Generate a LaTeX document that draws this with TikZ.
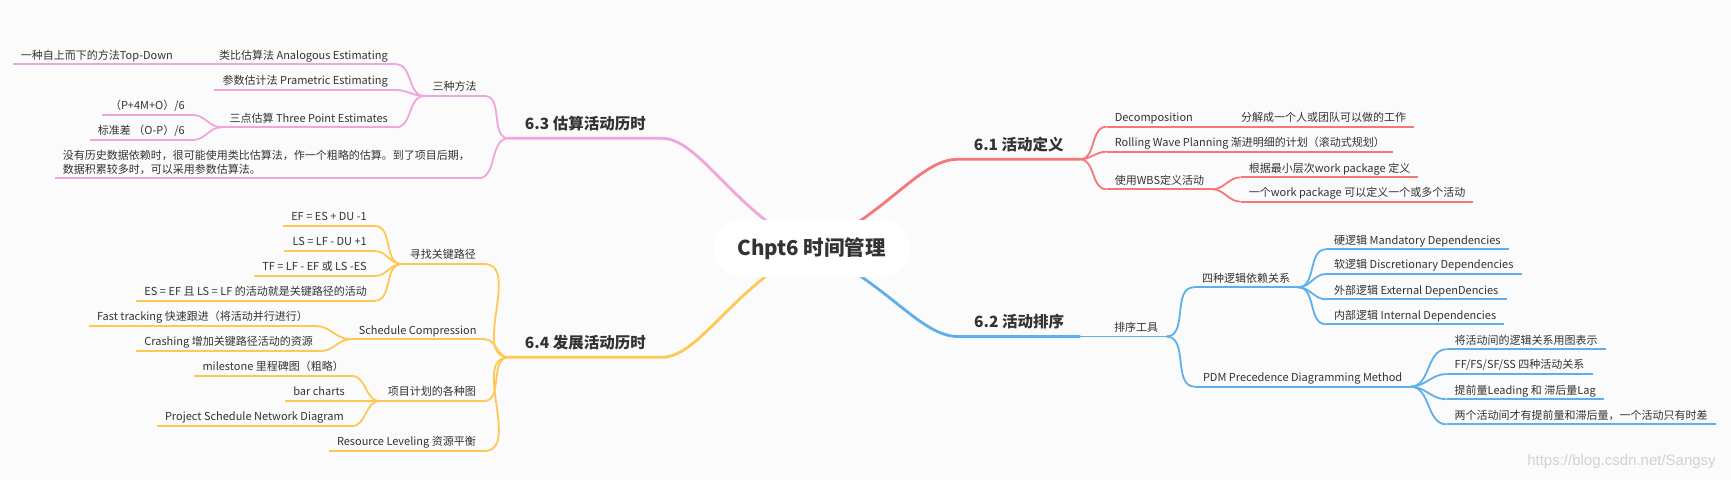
\documentclass[tikz,border=0pt]{standalone}
\usepackage{fontspec}
\setmainfont{Noto Sans CJK SC}
\newfontfamily\wmfont{Liberation Sans}

\definecolor{paper}{RGB}{251,251,251}
\definecolor{txt}{RGB}{51,51,51}
\definecolor{redbr}{RGB}{245,120,120}
\definecolor{pinkbr}{RGB}{240,165,220}
\definecolor{bluebr}{RGB}{95,175,235}
\definecolor{yelbr}{RGB}{255,200,85}

\pgfdeclarelayer{paper}
\pgfdeclarelayer{links}
\pgfsetlayers{paper,links,main}

\tikzset{
    root/.style={rectangle, rounded corners=28pt, fill=white, minimum width=197pt, minimum height=57pt, text=txt, font=\fontsize{20.5}{24}\selectfont\bfseries},
    branch/.style={inner xsep=16pt, inner ysep=5.7pt, text depth=3pt, text=txt, font=\fontsize{15.5}{18}\selectfont\bfseries},
    topic/.style={inner xsep=8pt, inner ysep=2.6pt, text depth=2.5pt, text=txt, font=\fontsize{11}{14}\selectfont},
    rtopic/.style={topic, anchor=south west},
    ltopic/.style={topic, anchor=south east},
    mainline/.style={line width=2.8pt},
    subline/.style={line width=1.8pt}
}

\begin{document}
\begin{tikzpicture}[x=1pt, y=-1pt]
    \begin{pgfonlayer}{paper}
        \fill[paper] (0,0) rectangle (1731,480);
    \end{pgfonlayer}
    \useasboundingbox (0,0) rectangle (1731,480);

    % Root and the four chapters
    \node[root] (root) at (811.5,248.5) {Chpt6 时间管理};
    \node[branch, anchor=south west] (defn) at (957.6,159.3) {6.1 活动定义};
    \node[branch, anchor=south west] (seq) at (958,336.5) {6.2 活动排序};
    \node[branch, anchor=south east] (est) at (662,138.3) {6.3 估算活动历时};
    \node[branch, anchor=south east] (dev) at (662,357.3) {6.4 发展活动历时};

    % 6.1 topics
    \node[rtopic] (dec) at (1106.6,126.7) {Decomposition};
    \node[rtopic] (decsub) at (1233,126.7) {分解成一个人或团队可以做的工作};
    \node[rtopic] (roll) at (1106.6,151.7) {Rolling Wave Planning 渐进明细的计划（滚动式规划）};
    \node[rtopic] (wbs) at (1106.6,189.3) {使用WBS定义活动};
    \node[rtopic] (wbsa) at (1240.6,177.3) {根据最小层次work package 定义};
    \node[rtopic] (wbsb) at (1240.6,201.7) {一个work package 可以定义一个或多个活动};

    % 6.2 topics
    \node[rtopic] (tool) at (1106,336.5) {排序工具};
    \node[rtopic] (dep) at (1193.8,287.3) {四种逻辑依赖关系};
    \node[rtopic] (depa) at (1326,249.3) {硬逻辑 Mandatory Dependencies};
    \node[rtopic] (depb) at (1326,274) {软逻辑 Discretionary Dependencies};
    \node[rtopic] (depc) at (1326,299.3) {外部逻辑 External DepenDencies};
    \node[rtopic] (depd) at (1326,324.3) {内部逻辑 Internal Dependencies};
    \node[rtopic] (pdm) at (1194.8,386.7) {PDM Precedence Diagramming Method};
    \node[rtopic] (pdma) at (1446.5,349.3) {将活动间的逻辑关系用图表示};
    \node[rtopic] (pdmb) at (1446.5,374) {FF/FS/SF/SS 四种活动关系};
    \node[rtopic] (pdmc) at (1446.5,399.3) {提前量Leading 和 滞后量Lag};
    \node[rtopic] (pdmd) at (1446.5,424.3) {两个活动间才有提前量和滞后量，一个活动只有时差};

    % 6.3 topics
    \node[ltopic] (three) at (484.7,96) {三种方法};
    \node[ltopic] (ana) at (396,64.3) {类比估算法 Analogous Estimating};
    \node[ltopic] (anasub) at (181,64.3) {一种自上而下的方法Top-Down};
    \node[ltopic] (para) at (396,90) {参数估计法 Prametric Estimating};
    \node[ltopic] (tpe) at (396,127.3) {三点估算 Three Point Estimates};
    \node[ltopic] (pert) at (193,115) {（P+4M+O）/6};
    \node[ltopic] (sd) at (193,140) {标准差 （O-P）/6};
    \node[ltopic, align=left] (note) at (478,178.3) {没有历史数据依赖时，很可能使用类比估算法，作一个粗略的估算。到了项目后期，\\数据积累较多时，可以采用参数估算法。};

    % 6.4 topics
    \node[ltopic] (crit) at (484,264) {寻找关键路径};
    \node[ltopic] (efx) at (375,226) {EF = ES + DU -1};
    \node[ltopic] (lsx) at (375,251) {LS = LF - DU +1};
    \node[ltopic] (tfx) at (375,276) {TF = LF - EF 或 LS -ES};
    \node[ltopic] (cpx) at (375,300.7) {ES = EF 且 LS = LF 的活动就是关键路径的活动};
    \node[ltopic] (comp) at (484.7,339.3) {Schedule Compression};
    \node[ltopic] (fast) at (316,326) {Fast tracking 快速跟进（将活动并行进行）};
    \node[ltopic] (crash) at (321,351) {Crashing 增加关键路径活动的资源};
    \node[ltopic] (chart) at (484,401) {项目计划的各种图};
    \node[ltopic] (ms) at (352,376) {milestone 里程碑图（粗略）};
    \node[ltopic] (bar) at (353,401) {bar charts};
    \node[ltopic] (psnd) at (352,426) {Project Schedule Network Diagram};
    \node[ltopic] (level) at (484,451) {Resource Leveling 资源平衡};

    \node[font=\wmfont\fontsize{15}{18}\selectfont, text=gray!35] (mark) at (1621.5,461.7) {https://blog.csdn.net/Sangsy};

    \begin{pgfonlayer}{links}
        % 6.1
        \draw[mainline, redbr] (root.center) .. controls +(76,-34) and +(-38,0) .. (defn.south west) -- (defn.south east);
        \foreach \c in {dec,roll,wbs}
            \draw[subline, redbr] (defn.south east) to[out=0,in=180] (\c.south west);
        \foreach \c in {wbsa,wbsb}
            \draw[subline, redbr] (wbs.south east) to[out=0,in=180] (\c.south west);
        \draw[subline, redbr] (dec.south east) -- (decsub.south west);
        \foreach \n in {dec,decsub,roll,wbs,wbsa,wbsb}
            \draw[subline, redbr] (\n.south west) -- (\n.south east);

        % 6.2
        \draw[mainline, bluebr] (root.center) .. controls +(76,34) and +(-38,0) .. (seq.south west) -- (seq.south east);
        \draw[subline, bluebr] (seq.south east) -- (tool.south west);
        \foreach \c in {dep,pdm}
            \draw[subline, bluebr] (tool.south east) to[out=0,in=180] (\c.south west);
        \foreach \c in {depa,depb,depc,depd}
            \draw[subline, bluebr] (dep.south east) to[out=0,in=180] (\c.south west);
        \foreach \c in {pdma,pdmb,pdmc,pdmd}
            \draw[subline, bluebr] (pdm.south east) to[out=0,in=180] (\c.south west);
        \foreach \n in {tool,dep,depa,depb,depc,depd,pdm,pdma,pdmb,pdmc,pdmd}
            \draw[subline, bluebr] (\n.south west) -- (\n.south east);

        % 6.3
        \draw[mainline, pinkbr] (root.center) .. controls +(-76,-34) and +(38,0) .. (est.south east) -- (est.south west);
        \foreach \c in {three,note}
            \draw[subline, pinkbr] (est.south west) to[out=180,in=0] (\c.south east);
        \foreach \c in {ana,para,tpe}
            \draw[subline, pinkbr] (three.south west) to[out=180,in=0] (\c.south east);
        \foreach \c in {pert,sd}
            \draw[subline, pinkbr] (tpe.south west) to[out=180,in=0] (\c.south east);
        \draw[subline, pinkbr] (ana.south west) -- (anasub.south east);
        \foreach \n in {three,ana,anasub,para,tpe,pert,sd,note}
            \draw[subline, pinkbr] (\n.south west) -- (\n.south east);

        % 6.4
        \draw[mainline, yelbr] (root.center) .. controls +(-76,34) and +(38,0) .. (dev.south east) -- (dev.south west);
        \foreach \c in {crit,comp,chart,level}
            \draw[subline, yelbr] (dev.south west) to[out=180,in=0] (\c.south east);
        \foreach \c in {efx,lsx,tfx,cpx}
            \draw[subline, yelbr] (crit.south west) to[out=180,in=0] (\c.south east);
        \foreach \c in {fast,crash}
            \draw[subline, yelbr] (comp.south west) to[out=180,in=0] (\c.south east);
        \foreach \c in {ms,bar,psnd}
            \draw[subline, yelbr] (chart.south west) to[out=180,in=0] (\c.south east);
        \foreach \n in {crit,efx,lsx,tfx,cpx,comp,fast,crash,chart,ms,bar,psnd,level}
            \draw[subline, yelbr] (\n.south west) -- (\n.south east);
    \end{pgfonlayer}
\end{tikzpicture}
\end{document}
